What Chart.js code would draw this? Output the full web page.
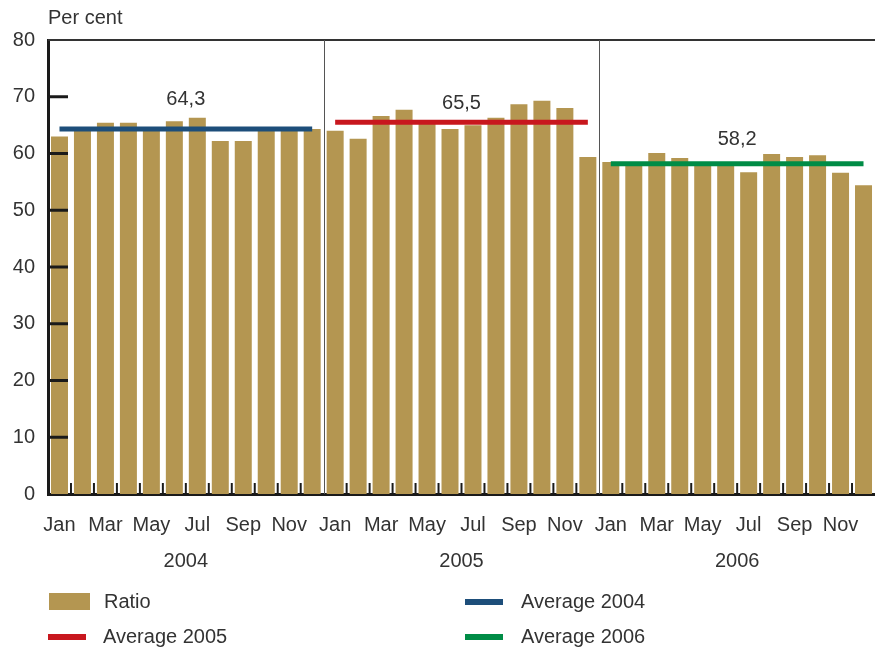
<!DOCTYPE html>
<html>
<head>
<meta charset="utf-8">
<script src="https://cdn.jsdelivr.net/npm/chart.js@4/dist/chart.umd.min.js"></script>
<style>
  html, body { margin: 0; padding: 0; background: #ffffff; }
  canvas { display: block; }
</style>
</head>
<body>
<canvas id="chart" width="875" height="650"></canvas>
<script>
// Monthly ratio, per cent
const monthNames = ['Jan', 'Feb', 'Mar', 'Apr', 'May', 'Jun', 'Jul', 'Aug', 'Sep', 'Oct', 'Nov', 'Dec'];
const years = ['2004', '2005', '2006'];
const ratio2004 = [63.0, 64.0, 65.4, 65.4, 64.0, 65.7, 66.3, 62.2, 62.2, 64.0, 64.0, 64.3];
const ratio2005 = [64.0, 62.6, 66.6, 67.7, 65.3, 64.3, 65.0, 66.3, 68.7, 69.3, 68.0, 59.4];
const ratio2006 = [58.5, 58.0, 60.1, 59.2, 58.0, 58.0, 56.7, 59.9, 59.4, 59.7, 56.6, 54.4];
const yearAverages = [64.3, 65.5, 58.2];
const yTickValues = [0, 10, 20, 30, 40, 50, 60, 70, 80];

const TEXT = '#333333';
const FONT = '"Liberation Sans", Arial, sans-serif';
const FONT_SIZE = 20;
const BAR_COLOR = '#b49651';
const AVG_COLORS = ['#1d4e7a', '#c8171e', '#008c46'];
// vertical gap between each average line and its value label
const AVG_LABEL_LIFT = [30, 19, 24];

const categories = [];
years.forEach(y => monthNames.forEach(m => categories.push(m)));
const ratio = [].concat(ratio2004, ratio2005, ratio2006);

function averageSeries(yearIndex) {
  return categories.map((_, i) =>
    Math.floor(i / 12) === yearIndex ? yearAverages[yearIndex] : null);
}

const avgDatasets = years.map((y, k) => ({
  type: 'line',
  label: 'Average ' + y,
  data: averageSeries(k),
  borderColor: AVG_COLORS[k],
  backgroundColor: AVG_COLORS[k],
  borderWidth: 5,
  borderCapStyle: 'butt',
  pointRadius: 0,
  spanGaps: false,
  order: 0
}));

const frame = {
  id: 'frame',
  afterDraw(chart) {
    const ctx = chart.ctx;
    const area = chart.chartArea;
    const x = chart.scales.x;
    const y = chart.scales.y;
    const step = x.getPixelForValue(1) - x.getPixelForValue(0);
    ctx.save();

    // top border
    ctx.strokeStyle = '#333333';
    ctx.lineWidth = 2;
    ctx.beginPath();
    ctx.moveTo(area.left, area.top);
    ctx.lineTo(area.right, area.top);
    ctx.stroke();

    // year separators
    ctx.strokeStyle = '#555555';
    ctx.lineWidth = 1;
    for (let k = 1; k < years.length; k++) {
      const px = Math.round(x.getPixelForValue(k * 12) - step / 2) + 0.5;
      ctx.beginPath();
      ctx.moveTo(px, area.top);
      ctx.lineTo(px, area.bottom);
      ctx.stroke();
    }

    // month ticks inside the plot, between bars
    ctx.strokeStyle = '#1a1a1a';
    ctx.lineWidth = 2;
    for (let i = 1; i < categories.length; i++) {
      if (i % 12 === 0) continue;
      const px = x.getPixelForValue(i) - step / 2;
      ctx.beginPath();
      ctx.moveTo(px, area.bottom);
      ctx.lineTo(px, area.bottom - 11);
      ctx.stroke();
    }

    // value ticks inside the plot
    ctx.lineWidth = 3;
    yTickValues.slice(1, -1).forEach(v => {
      const py = y.getPixelForValue(v);
      ctx.beginPath();
      ctx.moveTo(area.left, py);
      ctx.lineTo(area.left + 20, py);
      ctx.stroke();
    });

    // year labels and average value labels
    ctx.fillStyle = TEXT;
    ctx.font = FONT_SIZE + 'px ' + FONT;
    ctx.textAlign = 'center';
    ctx.textBaseline = 'middle';
    years.forEach((yr, k) => {
      const cx = (x.getPixelForValue(k * 12) + x.getPixelForValue(k * 12 + 11)) / 2;
      ctx.fillText(yr, cx, 561);
      const ly = y.getPixelForValue(yearAverages[k]) - AVG_LABEL_LIFT[k];
      ctx.fillText(yearAverages[k].toFixed(1).replace('.', ','), cx, ly);
    });

    // unit title
    ctx.textAlign = 'left';
    ctx.fillText('Per cent', 48, 18);

    // legend
    const ds = chart.data.datasets;
    const byLabel = l => ds.find(d => d.label === l);
    const items = [
      { d: byLabel('Ratio'), sx: 49, tx: 104, cy: 602 },
      { d: byLabel('Average 2004'), sx: 465, tx: 521, cy: 602 },
      { d: byLabel('Average 2005'), sx: 48, tx: 103, cy: 637 },
      { d: byLabel('Average 2006'), sx: 465, tx: 521, cy: 637 }
    ];
    items.forEach(it => {
      ctx.fillStyle = it.d.backgroundColor;
      if (it.d.type === 'line') {
        ctx.fillRect(it.sx, it.cy - 3, 38, 6);
      } else {
        ctx.fillRect(it.sx, it.cy - 9, 41, 17);
      }
      ctx.fillStyle = TEXT;
      ctx.fillText(it.d.label, it.tx, it.cy);
    });

    ctx.restore();
  }
};

new Chart(document.getElementById('chart'), {
  type: 'bar',
  data: {
    labels: categories,
    datasets: [
      ...avgDatasets,
      {
        type: 'bar',
        label: 'Ratio',
        data: ratio,
        backgroundColor: BAR_COLOR,
        borderWidth: 0,
        categoryPercentage: 1.0,
        barPercentage: 0.74,
        order: 5
      }
    ]
  },
  options: {
    responsive: false,
    animation: false,
    devicePixelRatio: 1,
    layout: { padding: { top: 40, right: 0, left: 0, bottom: 96 } },
    plugins: {
      legend: { display: false },
      tooltip: { enabled: false }
    },
    scales: {
      x: {
        grid: { display: false, drawTicks: false },
        border: { display: true, color: '#1a1a1a', width: 3 },
        ticks: {
          autoSkip: false,
          maxRotation: 0,
          minRotation: 0,
          padding: 19,
          color: TEXT,
          font: { family: FONT, size: FONT_SIZE },
          callback: (value, index) => index % 2 === 0 ? categories[index] : ''
        },
        afterFit: s => { s.height = 60; s.paddingLeft = 0; s.paddingRight = 0; }
      },
      y: {
        min: 0,
        max: 80,
        afterBuildTicks: s => { s.ticks = yTickValues.map(v => ({ value: v })); },
        grid: { display: false, drawTicks: false },
        border: { display: true, color: '#1a1a1a', width: 3 },
        ticks: {
          padding: 13,
          color: TEXT,
          font: { family: FONT, size: FONT_SIZE }
        },
        afterFit: s => { s.width = 48; s.paddingTop = 0; s.paddingBottom = 0; }
      }
    }
  },
  plugins: [frame]
});
</script>
</body>
</html>
